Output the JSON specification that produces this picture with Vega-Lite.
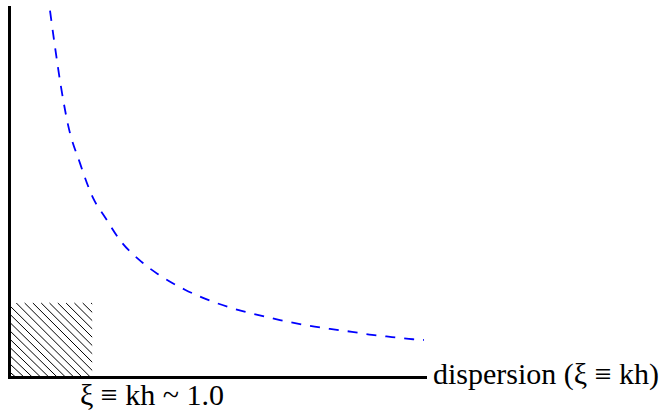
{
  "$schema": "https://vega.github.io/schema/vega-lite/v6.json",
  "width": 416,
  "height": 370,
  "autosize": {"type": "none"},
  "padding": {"left": 9, "top": 7, "right": 238, "bottom": 35},
  "background": "white",
  "config": {
    "view": {"stroke": null},
    "axis": {"domain": true, "domainWidth": 3, "domainColor": "black", "domainCap": "square", "ticks": false, "labels": false, "grid": false, "title": null}
  },
  "datasets": {
    "curve": [
      {"xi": 0.493, "v": 4.95},
      {"xi": 0.553, "v": 4.46},
      {"xi": 0.625, "v": 3.92},
      {"xi": 0.709, "v": 3.41},
      {"xi": 0.853, "v": 2.89},
      {"xi": 1.010, "v": 2.42},
      {"xi": 1.154, "v": 2.16},
      {"xi": 1.334, "v": 1.85},
      {"xi": 1.599, "v": 1.55},
      {"xi": 1.791, "v": 1.39},
      {"xi": 2.115, "v": 1.18},
      {"xi": 2.332, "v": 1.07},
      {"xi": 3.257, "v": 0.77},
      {"xi": 3.618, "v": 0.69},
      {"xi": 3.858, "v": 0.65},
      {"xi": 4.123, "v": 0.61},
      {"xi": 4.363, "v": 0.57},
      {"xi": 4.603, "v": 0.54},
      {"xi": 4.856, "v": 0.51},
      {"xi": 4.988, "v": 0.50}
    ],
    "hatch": [
      {"x1": 0, "y1": 0.076, "x2": 0.079, "y2": 0},
      {"x1": 0, "y1": 0.188, "x2": 0.179, "y2": 0},
      {"x1": 0, "y1": 0.300, "x2": 0.279, "y2": 0},
      {"x1": 0, "y1": 0.412, "x2": 0.379, "y2": 0},
      {"x1": 0, "y1": 0.524, "x2": 0.478, "y2": 0},
      {"x1": 0, "y1": 0.636, "x2": 0.578, "y2": 0},
      {"x1": 0, "y1": 0.749, "x2": 0.678, "y2": 0},
      {"x1": 0, "y1": 0.861, "x2": 0.778, "y2": 0},
      {"x1": 0, "y1": 0.973, "x2": 0.877, "y2": 0},
      {"x1": 0.088, "y1": 1, "x2": 0.977, "y2": 0},
      {"x1": 0.188, "y1": 1, "x2": 1, "y2": 0.089},
      {"x1": 0.287, "y1": 1, "x2": 1, "y2": 0.201},
      {"x1": 0.387, "y1": 1, "x2": 1, "y2": 0.314},
      {"x1": 0.487, "y1": 1, "x2": 1, "y2": 0.426},
      {"x1": 0.587, "y1": 1, "x2": 1, "y2": 0.538},
      {"x1": 0.686, "y1": 1, "x2": 1, "y2": 0.650},
      {"x1": 0.786, "y1": 1, "x2": 1, "y2": 0.762},
      {"x1": 0.886, "y1": 1, "x2": 1, "y2": 0.874},
      {"x1": 0.986, "y1": 1, "x2": 1, "y2": 0.986}
    ],
    "labels": [
      {"lx": 5.096, "ly": -0.1, "label": "dispersion (ξ ≡ kh)"},
      {"lx": 0.853, "ly": -0.378, "label": "ξ ≡ kh ~ 1.0"}
    ]
  },
  "layer": [
    {
      "data": {"name": "hatch"},
      "mark": {"type": "rule", "color": "black", "strokeWidth": 1},
      "encoding": {
        "x": {"field": "x1", "type": "quantitative", "scale": {"domain": [0, 5], "nice": false}},
        "y": {"field": "y1", "type": "quantitative", "scale": {"domain": [0, 5], "nice": false}},
        "x2": {"field": "x2"},
        "y2": {"field": "y2"}
      }
    },
    {
      "data": {"name": "curve"},
      "mark": {"type": "line", "color": "#0000ff", "strokeWidth": 1.8, "strokeDash": [10, 9], "interpolate": "monotone"},
      "encoding": {
        "x": {"field": "xi", "type": "quantitative"},
        "y": {"field": "v", "type": "quantitative"}
      }
    },
    {
      "data": {"name": "labels"},
      "mark": {"type": "text", "font": "Liberation Serif", "fontSize": 30, "align": "left", "baseline": "alphabetic", "color": "black"},
      "encoding": {
        "x": {"field": "lx", "type": "quantitative"},
        "y": {"field": "ly", "type": "quantitative"},
        "text": {"field": "label"}
      }
    }
  ]
}
